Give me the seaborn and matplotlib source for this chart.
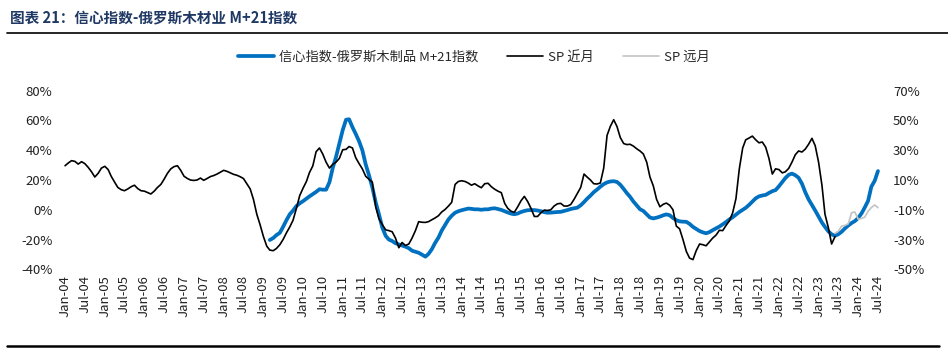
import matplotlib
matplotlib.use("Agg")
import matplotlib.pyplot as plt
from matplotlib.lines import Line2D
from matplotlib.ticker import FuncFormatter
import pandas as pd
import seaborn as sns

# SP 近月, 2004-01 起按月 (右轴)
sp_near = [
    19.6, 21.5, 23.0, 22.5, 20.7, 22.3, 21.0, 18.5, 15.5, 12.0,
    14.5, 18.0, 19.2, 17.0, 12.5, 8.6, 5.0, 3.5, 2.8, 4.0,
    5.5, 6.5, 4.2, 2.8, 2.5, 1.5, 0.6, 2.5, 5.0, 7.0,
    10.5, 14.5, 17.5, 19.0, 19.6, 16.5, 12.5, 11.0, 10.0, 9.7,
    10.0, 11.3, 9.8, 11.0, 12.3, 13.0, 14.0, 15.2, 16.5, 15.8,
    14.8, 13.8, 13.2, 12.2, 11.0, 7.5, 4.0, -3.0, -13.0, -20.0,
    -28.0, -34.5, -37.1, -37.5, -36.0, -33.5, -30.0, -25.5, -21.5, -17.0,
    -9.0, -0.5, 4.5, 9.0, 15.0, 19.5, 29.0, 31.5, 27.5, 22.0,
    18.0, 20.5, 22.0, 24.5, 30.3, 30.6, 32.5, 31.5, 25.0, 21.0,
    17.5, 12.5, 10.5, 8.5, -8.0, -16.0, -20.0, -23.5, -24.0, -24.8,
    -29.0, -35.5, -32.0, -34.0, -33.0, -29.0, -24.0, -18.0, -18.4, -18.5,
    -18.0, -16.7, -15.5, -14.0, -11.5, -9.8, -7.5, -5.0, 7.0, 9.0,
    9.5, 9.0, 8.0, 6.5, 7.5, 6.0, 4.8, 7.5, 7.8, 5.5,
    3.8, 2.5, 1.5, -5.7, -9.0, -11.0, -11.7, -8.0, -4.0, -1.0,
    -4.5, -9.0, -14.5, -14.5, -12.0, -10.2, -10.5, -10.0, -7.5, -6.0,
    -5.7, -7.5, -7.5, -6.5, -3.0, 1.0, 5.0, 14.0, 12.0, 10.0,
    7.5, 7.3, 8.0, 18.0, 40.0, 46.0, 50.5, 46.0, 38.5, 34.5,
    33.8, 34.0, 32.8, 31.0, 29.5, 27.5, 22.0, 12.0, 6.0, -3.0,
    -8.0, -6.3, -5.5, -7.0, -10.0, -21.0, -22.8, -30.0, -38.0, -42.5,
    -43.5, -37.5, -33.0, -33.5, -34.2, -31.5, -29.0, -27.0, -23.8, -24.0,
    -20.5, -17.5, -12.0, -2.5, 17.5, 31.5, 37.0, 38.2, 39.5, 37.0,
    35.0, 35.5, 32.0, 24.5, 14.0, 17.5, 17.0, 14.8, 15.5, 17.8,
    22.0, 27.0, 29.5, 28.8, 30.8, 34.0, 38.0, 33.0, 22.0, 6.5,
    -13.0, -22.0, -33.0, -28.1,
]

# 信心指数-俄罗斯木制品 M+21指数, 2009-03 起按月 (左轴)
conf_idx = [
    -20.3, -19.0, -17.0, -15.5, -11.5, -7.0, -3.0, -0.5,
    2.5, 4.3, 5.8, 7.5, 9.0, 10.5, 12.0, 13.8, 13.5, 13.5,
    18.5, 28.0, 35.6, 44.5, 53.5, 60.5, 60.8, 55.5, 51.0, 46.0,
    40.0, 30.5, 23.0, 15.0, 5.0, -3.0, -12.0, -17.5, -20.0, -21.0,
    -22.5, -23.3, -24.0, -24.8, -25.8, -27.5, -28.2, -28.9, -30.2, -31.5,
    -29.7, -26.5, -22.3, -18.7, -14.0, -10.3, -6.5, -4.0, -2.0, -1.0,
    -0.3, 0.3, 0.8, 0.6, 0.3, 0.3, 0.0, 0.3, 0.3, 0.8,
    1.0, 0.5, -0.1, -1.0, -1.8, -2.6, -3.0, -2.5, -1.5, -0.8,
    -0.3, -0.2, -0.2, -0.5, -1.0, -1.6, -2.0, -1.9, -1.7, -1.5,
    -1.4, -0.8, -0.2, 0.5, 1.0, 1.4, 3.0, 5.2, 7.4, 9.5,
    11.8, 13.6, 15.5, 17.2, 18.4, 19.0, 19.2, 18.7, 16.8, 14.0,
    11.3, 8.7, 5.6, 3.0, 0.4, -0.8, -3.0, -5.2, -5.8, -5.3,
    -4.6, -3.7, -3.1, -3.7, -5.5, -7.0, -7.8, -8.0, -8.1, -9.5,
    -11.5, -12.9, -14.3, -15.2, -15.8, -15.0, -13.7, -12.5, -11.3, -9.8,
    -8.2, -6.5, -5.0, -3.3, -1.5, 0.0, 1.3, 3.3, 5.5, 7.7,
    9.0, 9.6, 10.0, 11.3, 12.5, 13.2, 15.8, 18.7, 21.3, 23.5,
    24.3, 23.2, 21.5, 17.5, 11.7, 7.0, 3.2, -0.5, -4.5, -8.6,
    -11.5, -14.5, -16.5, -17.5, -16.5, -14.8, -12.5, -10.6, -8.9, -7.6,
    -5.5, -2.4, 1.5, 6.0, 15.5, 19.5, 26.0,
]

# SP 远月, 2023-06 起按月 (右轴)
sp_far = [-25.8, -24.5, -21.0, -20.5, -19.5, -12.0, -11.5, -16.3,
          -15.8, -15.0, -11.0, -8.5, -6.8, -8.6]

left_ticks = [-40, -20, 0, 20, 40, 60, 80]
right_ticks = [-50, -30, -10, 10, 30, 50, 70]

near_dates = pd.date_range("2004-01-01", periods=len(sp_near), freq="MS")
conf_dates = pd.date_range("2009-03-01", periods=len(conf_idx), freq="MS")
far_dates = pd.date_range("2023-06-01", periods=len(sp_far), freq="MS")
tick_dates = pd.date_range("2004-01-01", "2024-07-01", freq="6MS")

sns.set_theme(style="white")
plt.rcParams["font.family"] = ["Noto Sans CJK SC", "DejaVu Sans"]
plt.rcParams["axes.unicode_minus"] = False

W, H = 948, 352
fig = plt.figure(figsize=(W / 100, H / 100), dpi=100)
ax = fig.add_axes([58 / W, 1 - 269.3 / H, (886 - 58) / W, (269.3 - 90.7) / H])
ax2 = ax.twinx()

sns.lineplot(x=conf_dates, y=conf_idx, ax=ax, color="#0070C0", linewidth=2.7,
             label="信心指数-俄罗斯木制品 M+21指数")
sns.lineplot(x=near_dates, y=sp_near, ax=ax2, color="black", linewidth=1.2,
             label="SP 近月")
sns.lineplot(x=far_dates, y=sp_far, ax=ax2, color="#C3C3C3", linewidth=1.2,
             label="SP 远月")

h1, l1 = ax.get_legend_handles_labels()
h2, l2 = ax2.get_legend_handles_labels()
ax.get_legend().remove()
ax2.get_legend().remove()

pct = FuncFormatter(lambda v, p: f"{v:.0f}%")
ax.set_ylim(-40, 80)
ax.set_yticks(left_ticks)
ax.yaxis.set_major_formatter(pct)
ax2.set_ylim(-50, 70)
ax2.set_yticks(right_ticks)
ax2.yaxis.set_major_formatter(pct)

ax.set_xlim(pd.Timestamp("2003-10-28"), pd.Timestamp("2024-09-13"))
ax.set_xticks(tick_dates)
ax.set_xticklabels([d.strftime("%b-%y") for d in tick_dates], rotation=90,
                   fontsize=9.5, color="#222222")
ax.set_xlabel("")
ax.set_ylabel("")
ax2.set_ylabel("")

ax.tick_params(axis="y", length=0, pad=4, labelsize=9.5, labelcolor="#222222")
ax.tick_params(axis="x", length=0, pad=4)
ax2.tick_params(axis="y", length=0, pad=5, labelsize=9.5, labelcolor="#222222")
for a in (ax, ax2):
    for s in a.spines.values():
        s.set_visible(False)
ax.grid(False)
ax2.grid(False)

fig.legend(h1 + h2, l1 + l2, loc="center", bbox_to_anchor=(0.5, 1 - 57 / H),
           ncol=3, frameon=False, fontsize=9.5, handlelength=2.7,
           handletextpad=0.4, columnspacing=2.2)

fig.text(10 / W, 1 - 17 / H, "图表 21：信心指数-俄罗斯木材业 M+21指数",
         fontsize=10.5, fontweight="bold", color="#1F3864", va="center")
fig.add_artist(Line2D([7 / W, 1.0], [1 - 33 / H, 1 - 33 / H],
                      color="black", linewidth=1.2))
fig.add_artist(Line2D([7 / W, 939 / W], [1 - 346 / H, 1 - 346 / H],
                      color="black", linewidth=1.8))

fig.savefig("out.png", dpi=100)
